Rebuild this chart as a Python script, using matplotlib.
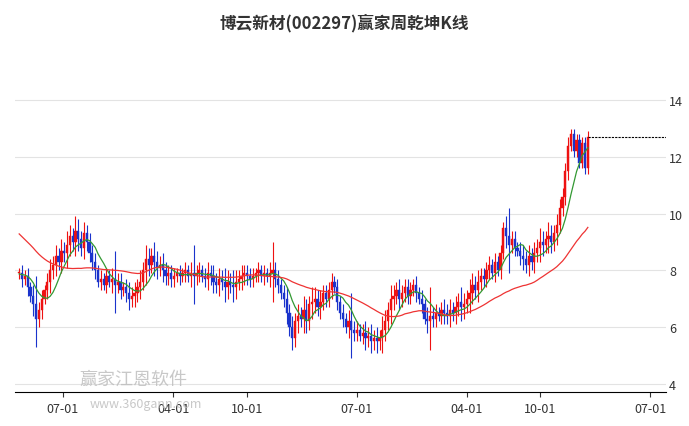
import matplotlib
matplotlib.use("Agg")
import matplotlib.pyplot as plt
import matplotlib.dates as mdates
import numpy as np
import pandas as pd

plt.rcParams['font.family'] = ['Noto Sans CJK SC', 'DejaVu Sans']

title = "博云新材(002297)赢家周乾坤K线"
prehistory = [11.8,11.6,11.5,11.3,11.2,11.0,10.9,10.8,10.6,10.5,10.4,10.2,10.1,10.0,9.9,9.8,9.7,9.6,9.4,
              9.3,9.2,9.0,8.9,8.8,8.7,8.6,8.5,8.4,8.3,8.2,8.1,8.0,7.9,7.9,7.9,7.8,7.8,7.9,7.9,7.9]
close = [7.9,7.7,7.8,7.4,7.1, 6.8,6.3,6.6,7.0, 7.3,7.6,8.0,8.2, 8.5,8.3,8.7,8.6,8.9,
         9.2,9.0,9.4,9.1,8.8, 9.3,9.0,8.6,8.3,8.0, 7.6,7.7,7.5,7.8,7.6,
         7.7,7.5,7.6,7.3,7.4,7.2,7.0,7.1, 7.2,7.4,7.6,8.0, 8.4,8.2,8.5,8.3,8.1,8.2,
         8.0,7.8,7.9,7.7,7.8,7.9,7.8,7.9,8.0,7.8, 7.9,7.8,7.9,8.0,7.8,7.7,7.9,7.8,7.6,7.5,
         7.7,7.6,7.4,7.6,7.5,7.4, 7.6,7.7,7.8,7.9,7.8,7.7,7.8,7.9,8.0,7.8,
         7.9,7.8,7.9,8.0,7.7,7.5,7.2,7.0, 6.5,6.0,5.6,6.2, 6.4,6.3,6.6,6.2,6.8,6.9,
         7.0,6.7,6.9,7.2,7.0,7.3, 7.6,7.4,6.9,6.5, 6.3,6.0,6.2,5.9,5.8,5.9,5.7,
         5.8,5.6,5.7,5.5,5.6,5.5,5.6, 5.9,6.2,6.6,7.0,
         7.1,7.3,7.0,7.2,7.4,7.1,7.3,7.5,7.2,7.0,6.8, 6.3,6.2,6.4,6.3,6.5,6.4,6.6,6.5,6.4,
         6.6,6.5,6.7,6.9,6.7,6.8,7.0, 7.2,7.5,7.3,7.6,7.8,7.7,8.0, 8.2,7.9,8.3,8.0,
         8.6,9.5,9.2,8.9,9.1,8.8, 8.7,8.5,8.4,8.2,8.5,8.3,8.6, 8.8,9.0,8.9,9.1,9.2,9.0,9.3,
         9.6,10.2,10.6,11.5,12.4, 12.8,12.2,12.6,11.8,12.5,11.6,12.7]
wick = [0.2,0.3,0.2,0.3,0.2,0.4,1.0,0.3,0.3,0.2,0.3,0.4,0.3,0.4,0.3,0.4,0.3,0.5,
        0.4,0.3,0.5,0.4,0.3,0.4,0.3,0.3,0.3,0.3]*7 + [0.2]*7
dates = pd.date_range("2019-03-15", periods=len(close), freq="7D")

s = pd.Series(prehistory + close)
ma_fast = s.rolling(8).mean().values[len(prehistory):]
ma_slow = s.rolling(40).mean().values[len(prehistory):]

fig = plt.figure(figsize=(6.89, 4.27), dpi=100)
ax = fig.add_axes([0.022, 0.08, 0.945, 0.735])
opens = [prehistory[-1]] + close[:-1]
w = 5.5
for d, o, c, k in zip(dates, opens, close, wick):
    col = "#ee1111" if c >= o else "#1a33cc"
    ax.vlines(d, min(o, c) - k, max(o, c) + k, color=col, lw=0.8)
    ax.bar(d, max(abs(c - o), 0.04), bottom=min(o, c), width=w, color=col, edgecolor=col, lw=0.3)
ax.plot(dates, ma_fast, color="#339933", lw=0.9)
ax.plot(dates, ma_slow, color="#ee3333", lw=0.9)
ax.hlines(close[-1], dates[-1], pd.Timestamp("2023-08-10"), color="black", lw=0.8, linestyles=(0, (2, 1)))

ax.set_xlim(pd.Timestamp("2019-03-05"), pd.Timestamp("2023-08-10"))
ax.set_ylim(3.72, 14.78)
ax.set_yticks([4, 6, 8, 10, 12, 14])
ax.yaxis.tick_right()
ax.tick_params(axis='y', length=0, labelsize=9, colors="#333333", pad=2)
ax.grid(axis='y', color="#e3e3e3", lw=0.8)
ticks = pd.to_datetime(["2019-07-01","2020-04-01","2020-10-01","2021-07-01","2022-04-01","2022-10-01","2023-07-01"])
ax.set_xticks(ticks)
ax.xaxis.set_major_formatter(mdates.DateFormatter("%m-%d"))
ax.tick_params(axis='x', labelsize=9, colors="#333333")
for sp in ["top", "right", "left"]:
    ax.spines[sp].set_visible(False)
ax.set_axisbelow(True)
fig.text(0.5, 0.945, title, ha="center", va="center", fontsize=12, fontweight="bold", color="#333333")
fig.text(0.115, 0.1, "赢家江恩软件", fontsize=13, color="#bbbbbb", alpha=0.8)
fig.text(0.13, 0.045, "www.360gann.com", fontsize=9, color="#bbbbbb", alpha=0.8)
fig.savefig("out.png")
